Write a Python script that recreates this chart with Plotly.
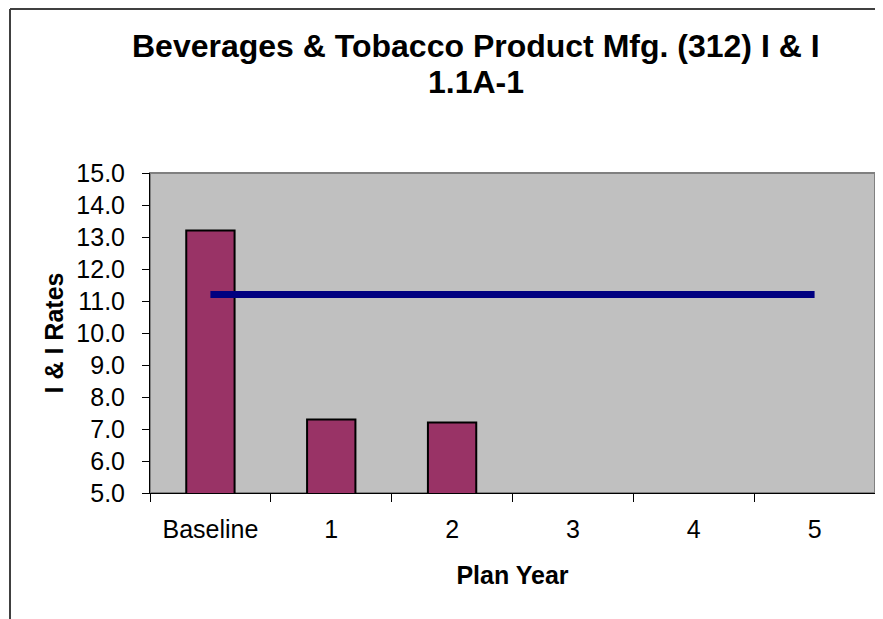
import plotly.graph_objects as go

categories = ["Baseline", "1", "2", "3", "4", "5"]
rates = [13.2, 7.3, 7.2, None, None, None]
target = [11.2, 11.2, 11.2, 11.2, 11.2, 11.2]

OFF = 8  # page body margin
W, H = 883 - OFF, 619 - OFF
L, R, T, B = 150, 875, 173, 493  # plot area in screen pixels

fig = go.Figure()
fig.add_trace(go.Bar(
    x=categories, y=rates, width=0.4,
    marker=dict(color="#993366", line=dict(color="black", width=2)),
    showlegend=False, hoverinfo="skip",
))
fig.add_trace(go.Scatter(
    x=categories, y=target, mode="lines",
    line=dict(color="#000080", width=7),
    showlegend=False, hoverinfo="skip",
))

pw, ph = R - L, B - T
def px(x): return (x - L) / pw
def py(y): return (B - y) / ph

fig.update_layout(
    width=W, height=H,
    margin=dict(l=L - OFF, r=W - (R - OFF), t=T - OFF, b=H - (B - OFF), pad=0),
    paper_bgcolor="white", plot_bgcolor="#C0C0C0",
    font=dict(family="Liberation Sans, Arial, sans-serif", color="black", size=25),
    annotations=[
        dict(text="<b>Beverages & Tobacco Product Mfg. (312) I & I</b>",
             xref="paper", yref="paper", x=px(476), y=py(46), xanchor="center", yanchor="middle",
             showarrow=False, font=dict(size=32)),
        dict(text="<b>1.1A-1</b>",
             xref="paper", yref="paper", x=px(476), y=py(82), xanchor="center", yanchor="middle",
             showarrow=False, font=dict(size=32)),
    ],
    shapes=[
        dict(type="rect", xref="paper", yref="paper", x0=0, x1=1, y0=0, y1=1,
             line=dict(color="#808080", width=2), layer="below"),
        dict(type="line", xref="paper", yref="paper", x0=px(10), x1=px(10), y0=py(9), y1=py(640),
             line=dict(color="#404040", width=2)),
        dict(type="line", xref="paper", yref="paper", x0=px(10), x1=px(900), y0=py(9), y1=py(9),
             line=dict(color="#404040", width=2)),
    ],
)
fig.update_xaxes(
    type="category", tickson="boundaries", ticks="outside", ticklen=8,
    tickcolor="black", showline=True, linecolor="black", linewidth=1,
    showgrid=False, tickfont=dict(size=25), ticklabelstandoff=14,
    title=dict(text="<b>Plan Year</b>", font=dict(size=25), standoff=24),
    range=[-0.5, 5.5],
)
fig.update_yaxes(
    range=[5, 15], dtick=1, tick0=5, tickformat=".1f", ticks="outside", ticklen=7,
    tickcolor="black", showline=True, linecolor="black", linewidth=1,
    showgrid=False, zeroline=False, tickfont=dict(size=25), ticklabelstandoff=12,
    title=dict(text="<b>I & I Rates</b>", font=dict(size=25), standoff=5),
)
fig.write_html("out.html")
